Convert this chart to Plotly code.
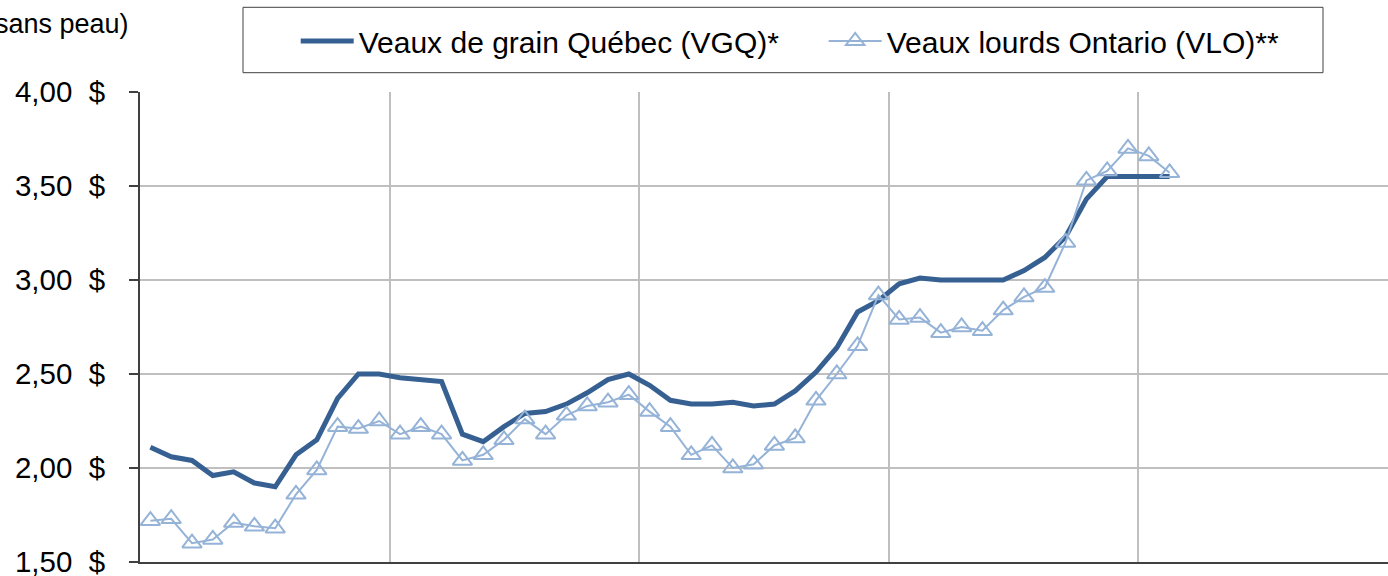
import plotly.graph_objects as go

# Periods (monthly, 12 per year band); x-axis labels are cropped in the reference
periodes = list(range(50))

vgq = [2.11, 2.06, 2.04, 1.96, 1.98, 1.92, 1.90, 2.07, 2.15, 2.37,
       2.50, 2.50, 2.48, 2.47, 2.46, 2.18, 2.14, 2.22, 2.29, 2.30,
       2.34, 2.40, 2.47, 2.50, 2.44, 2.36, 2.34, 2.34, 2.35, 2.33,
       2.34, 2.41, 2.51, 2.64, 2.83, 2.89, 2.98, 3.01, 3.00, 3.00,
       3.00, 3.00, 3.05, 3.12, 3.23, 3.43, 3.55, 3.55, 3.55, 3.55]

vlo = [1.72, 1.73, 1.60, 1.62, 1.71, 1.69, 1.68, 1.86, 1.99, 2.22,
       2.21, 2.25, 2.18, 2.22, 2.18, 2.04, 2.07, 2.15, 2.26, 2.18,
       2.28, 2.33, 2.35, 2.39, 2.30, 2.22, 2.07, 2.12, 2.00, 2.02,
       2.12, 2.16, 2.36, 2.50, 2.65, 2.92, 2.79, 2.80, 2.72, 2.75,
       2.73, 2.84, 2.91, 2.96, 3.20, 3.53, 3.58, 3.70, 3.66, 3.57]

y_ticks = [1.5, 2.0, 2.5, 3.0, 3.5, 4.0]
y_labels = ["1,50\u00a0\u00a0$", "2,00\u00a0\u00a0$", "2,50\u00a0\u00a0$",
            "3,00\u00a0\u00a0$", "3,50\u00a0\u00a0$", "4,00\u00a0\u00a0$"]

names = ["Veaux de grain Québec (VGQ)*", "Veaux lourds Ontario (VLO)**"]

FONT = "Liberation Sans, Arial, sans-serif"
DARK = "#376092"
LIGHT = "#95B3D7"

fig = go.Figure()
fig.add_trace(go.Scatter(
    x=periodes, y=vgq, name=names[0], mode="lines",
    line=dict(color=DARK, width=5),
))
fig.add_trace(go.Scatter(
    x=periodes, y=vlo, name=names[1], mode="lines+markers",
    line=dict(color=LIGHT, width=2),
    marker=dict(symbol="triangle-up-open", size=17, color=LIGHT,
                line=dict(color=LIGHT, width=2)),
))

W, H = 1388, 576
L, R, T, B = 140, 0, 92, 14
pw, ph = W - L - R, H - T - B

def px_x(p):
    return (p - L) / pw

def px_y(p):
    return (H - B - p) / ph

fig.update_layout(
    width=W, height=H,
    margin=dict(l=L, r=R, t=T, b=B, autoexpand=False),
    paper_bgcolor="white", plot_bgcolor="white",
    font=dict(family=FONT, size=29.5, color="black"),
    showlegend=True,
    legend=dict(
        orientation="h",
        xref="container", yref="container",
        x=295.7 / W, xanchor="left",
        y=1 - 41 / H, yanchor="middle",
        bgcolor="rgba(0,0,0,0)", borderwidth=0,
        font=dict(family=FONT, size=30, color="black"),
        entrywidth=460, entrywidthmode="pixels",
        itemwidth=53,
    ),
    xaxis=dict(
        range=[-0.5, 59.5],
        tickvals=[11.5, 23.5, 35.5, 47.5, 59.5],
        showticklabels=False, ticks="",
        showgrid=True, gridcolor="#BFBFBF", gridwidth=2,
        showline=True, linecolor="#404040", linewidth=2,
        zeroline=False, fixedrange=True, automargin=False,
    ),
    yaxis=dict(
        range=[1.5, 4.0],
        tickvals=y_ticks, ticktext=y_labels,
        showgrid=True, gridcolor="#BFBFBF", gridwidth=2,
        showline=True, linecolor="#404040", linewidth=2,
        ticks="outside", ticklen=9, tickcolor="#404040", tickwidth=1.5,
        ticklabelstandoff=18, ticklabeloverflow="allow",
        tickfont=dict(family=FONT, size=29.5, color="black"),
        zeroline=False, fixedrange=True, automargin=False,
    ),
    shapes=[dict(
        type="rect", xref="paper", yref="paper",
        x0=px_x(243), x1=px_x(1323), y0=px_y(72.7), y1=px_y(7.3),
        line=dict(color="#404040", width=1), fillcolor="rgba(0,0,0,0)",
    )],
    annotations=[dict(
        text="(sans peau)", xref="paper", yref="paper",
        x=px_x(131), xanchor="right", y=px_y(24), yanchor="middle",
        showarrow=False, font=dict(family=FONT, size=27, color="black"),
    )],
)

fig.write_html(
    "out.html",
    config={"displayModeBar": False},
    post_script="document.body.style.margin='0';document.body.style.overflow='hidden';",
)
